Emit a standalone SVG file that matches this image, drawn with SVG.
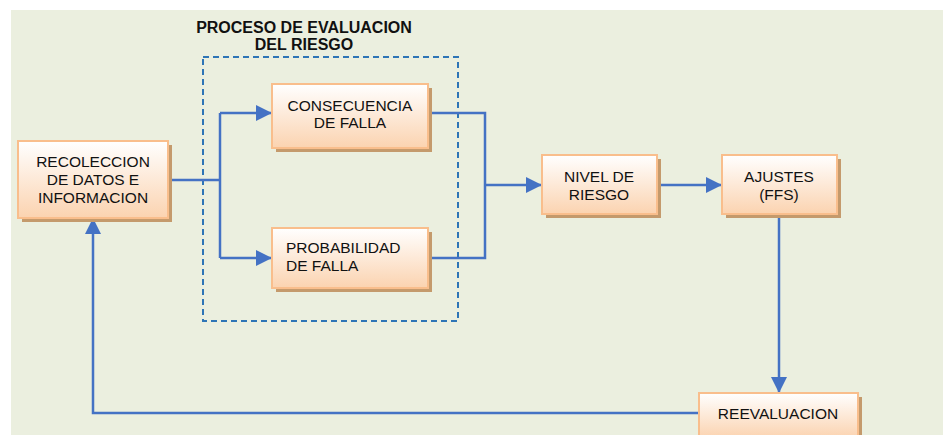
<svg xmlns="http://www.w3.org/2000/svg" width="943" height="435" viewBox="0 0 943 435">
<defs>
<linearGradient id="g" x1="0" y1="0" x2="0" y2="1">
<stop offset="0" stop-color="#FFFFFF"/>
<stop offset="1" stop-color="#FBD3B0"/>
</linearGradient>
<marker id="ah" viewBox="0 0 16 16" refX="15" refY="8" markerWidth="16" markerHeight="16" markerUnits="userSpaceOnUse" orient="auto">
<path d="M0,0 L16,8 L0,16 Z" fill="#4472C4"/>
</marker>
<style>
.sh{fill:#C49A6C}
.bx{fill:url(#g);stroke:#F9BE8C;stroke-width:2}
.t{font-family:"Liberation Sans",Arial,sans-serif;font-size:15.5px;fill:#111}
.c{text-anchor:middle}
.title{font-family:"Liberation Sans",Arial,sans-serif;font-size:16px;font-weight:bold;fill:#111;text-anchor:middle}
.ln{fill:none;stroke:#4472C4;stroke-width:2.5}
</style>
</defs>
<rect x="0" y="0" width="943" height="435" fill="#FFFFFF"/>
<rect x="11" y="10" width="932" height="425" fill="#EBEFDF"/>
<g id="group-title">
<text class="title" x="304" y="33">PROCESO DE EVALUACION</text>
<text class="title" x="304" y="50">DEL RIESGO</text>
<rect x="203" y="57" width="255" height="264" fill="none" stroke="#2E75B6" stroke-width="2" stroke-dasharray="6,4"/>
</g>
<g id="connectors">
<polyline class="ln" points="168,180 220,180"/>
<polyline class="ln" points="220,113 220,258"/>
<polyline class="ln" points="220,113 271,113" marker-end="url(#ah)"/>
<polyline class="ln" points="220,258 271,258" marker-end="url(#ah)"/>
<polyline class="ln" points="428,113 485,113 485,258 428,258"/>
<polyline class="ln" points="485,185 541,185" marker-end="url(#ah)"/>
<polyline class="ln" points="657,185 721,185" marker-end="url(#ah)"/>
<polyline class="ln" points="779,214 779,392" marker-end="url(#ah)"/>
<polyline class="ln" points="699,413 93,413 93,219" marker-end="url(#ah)"/>
</g>
<g id="n-recoleccion">
<rect class="sh" x="22" y="145" width="150" height="77"/>
<rect class="bx" x="18" y="141" width="150" height="77"/>
<text class="t c" x="93" y="167">RECOLECCION</text>
<text class="t c" x="93" y="185">DE DATOS E</text>
<text class="t c" x="93" y="203">INFORMACION</text>
</g>
<g id="n-consecuencia">
<rect class="sh" x="276" y="88" width="156" height="64"/>
<rect class="bx" x="272" y="84" width="156" height="64"/>
<text class="t c" x="350" y="111">CONSECUENCIA</text>
<text class="t c" x="350" y="128">DE FALLA</text>
</g>
<g id="n-probabilidad">
<rect class="sh" x="276" y="232" width="156" height="60"/>
<rect class="bx" x="272" y="228" width="156" height="60"/>
<text class="t" x="286" y="253">PROBABILIDAD</text>
<text class="t" x="286" y="271">DE FALLA</text>
</g>
<g id="n-nivel">
<rect class="sh" x="546" y="159" width="115" height="59"/>
<rect class="bx" x="542" y="155" width="115" height="59"/>
<text class="t c" x="599" y="182">NIVEL DE</text>
<text class="t c" x="599" y="200">RIESGO</text>
</g>
<g id="n-ajustes">
<rect class="sh" x="726" y="159" width="115" height="59"/>
<rect class="bx" x="722" y="155" width="115" height="59"/>
<text class="t c" x="779" y="182">AJUSTES</text>
<text class="t c" x="779" y="200">(FFS)</text>
</g>
<g id="n-reevaluacion">
<rect class="sh" x="703" y="397" width="159" height="45"/>
<rect class="bx" x="699" y="393" width="159" height="45"/>
<text class="t c" x="778" y="419">REEVALUACION</text>
</g>
</svg>
